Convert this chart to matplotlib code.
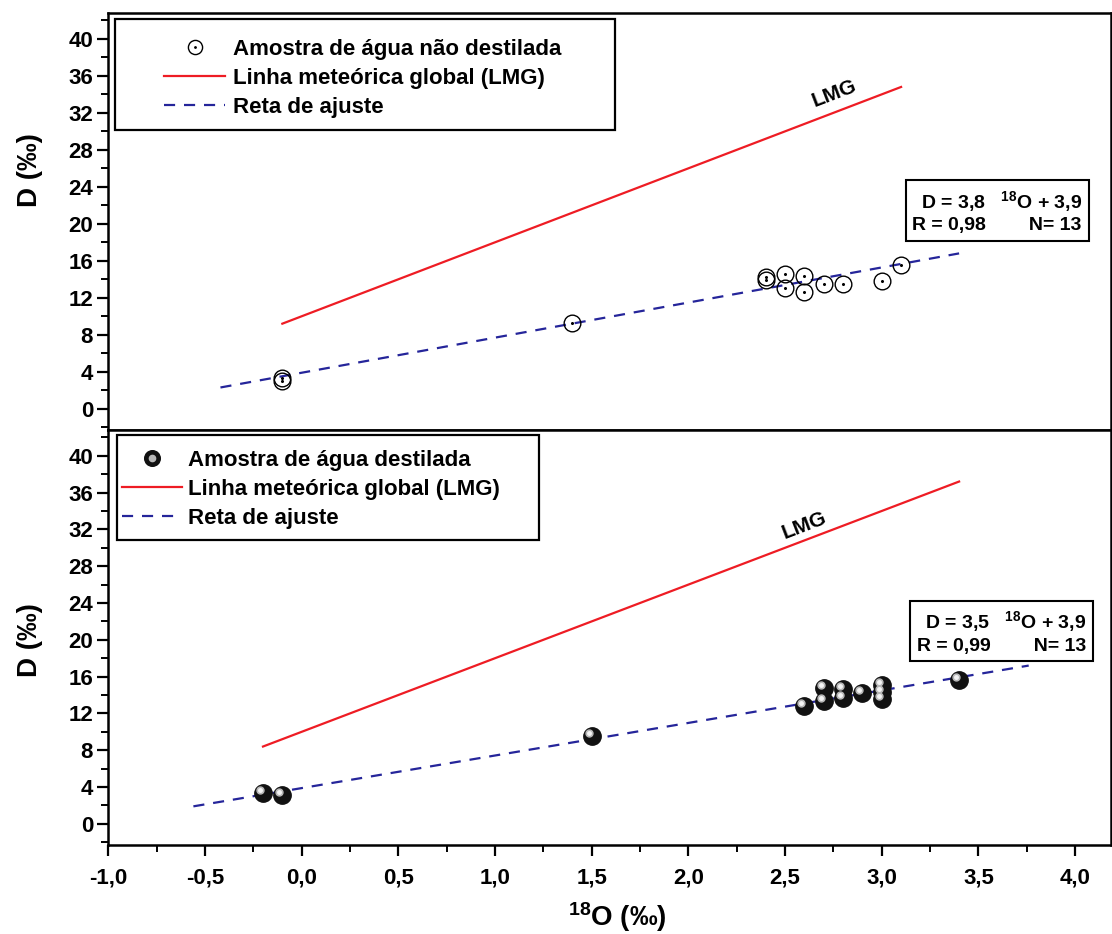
import numpy as np
import matplotlib.pyplot as plt
from matplotlib.patches import Rectangle
from matplotlib.transforms import ScaledTranslation
from matplotlib.legend_handler import HandlerTuple

plt.rcParams['font.family'] = ['Liberation Sans', 'DejaVu Sans']
plt.rcParams['font.weight'] = 'bold'
plt.rcParams['mathtext.fontset'] = 'custom'
plt.rcParams['mathtext.rm'] = 'Liberation Sans:bold'
plt.rcParams['mathtext.bf'] = 'Liberation Sans:bold'
plt.rcParams['mathtext.default'] = 'bf'

# amostra nao destilada (painel de cima)
top_x = [-0.1, -0.1, 1.4, 2.4, 2.4, 2.5, 2.5, 2.6, 2.6, 2.7, 2.8, 3.0, 3.1]
top_y = [3.3, 3.0, 9.3, 14.3, 13.9, 14.6, 13.1, 14.4, 12.6, 13.5, 13.5, 13.8, 15.5]
lmg_top_x = [-0.1, 3.1]
lmg_top_y = [9.2, 34.8]
fit_top_x = [-0.42, 3.4]
fit_top_y = [2.3, 16.8]

# amostra destilada (painel de baixo)
bot_x = [-0.2, -0.1, 1.5, 2.6, 2.7, 2.7, 2.8, 2.8, 2.9, 3.0, 3.0, 3.0, 3.4]
bot_y = [3.3, 3.1, 9.5, 12.8, 14.8, 13.3, 14.6, 13.7, 14.25, 15.05, 13.6, 14.3, 15.6]
lmg_bot_x = [-0.2, 3.4]
lmg_bot_y = [8.4, 37.2]
fit_bot_x = [-0.56, 3.76]
fit_bot_y = [1.9, 17.2]

x_ticks = [-1.0, -0.5, 0.0, 0.5, 1.0, 1.5, 2.0, 2.5, 3.0, 3.5, 4.0]
x_tick_labels = ['-1,0', '-0,5', '0,0', '0,5', '1,0', '1,5', '2,0', '2,5', '3,0', '3,5', '4,0']
y_ticks = [0, 4, 8, 12, 16, 20, 24, 28, 32, 36, 40]

red = '#ee1c24'
blue = '#25259a'

fig = plt.figure(figsize=(11.12, 9.34), dpi=100)
ax1 = fig.add_axes([0.0974, 0.5396, 0.9016, 0.4465])
ax2 = fig.add_axes([0.0974, 0.0953, 0.9016, 0.4443])

for ax in [ax1, ax2]:
    ax.set_xlim(-1.0, 4.185)
    ax.set_ylim(-2.3, 42.8)
    ax.set_yticks(y_ticks)
    ax.set_yticks(np.arange(-2, 43, 2), minor=True)
    ax.set_xticks(x_ticks)
    ax.set_xticks(np.arange(-1.0, 4.2, 0.25), minor=True)
    ax.tick_params(which='major', direction='out', length=8, width=1.6, labelsize=16, pad=3)
    ax.tick_params(which='minor', direction='out', length=5, width=1.4)
    ax.tick_params(top=False, right=False, which='both')
    for s in ax.spines.values():
        s.set_linewidth(1.8)

ax1.tick_params(bottom=False, labelbottom=False, which='both')
ax2.set_xticklabels(x_tick_labels)
ax2.tick_params(axis='x', which='major', pad=8)

# painel de cima
h_lmg1, = ax1.plot(lmg_top_x, lmg_top_y, '-', color=red, lw=1.6)
h_fit1, = ax1.plot(fit_top_x, fit_top_y, color=blue, lw=1.6, dashes=(5, 4))
h_c1, = ax1.plot(top_x, top_y, 'o', ms=12, mfc='none', mec='black', mew=1.0, ls='none')
h_d1, = ax1.plot(top_x, top_y, 'o', ms=1.2, color='black', ls='none')

# painel de baixo
h_lmg2, = ax2.plot(lmg_bot_x, lmg_bot_y, '-', color=red, lw=1.6)
h_fit2, = ax2.plot(fit_bot_x, fit_bot_y, color=blue, lw=1.6, dashes=(5, 4))
h_b2, = ax2.plot(bot_x, bot_y, 'o', ms=12.5, color='#111111', ls='none')
shift = ax2.transData + ScaledTranslation(-2.2 / 72, 2.2 / 72, fig.dpi_scale_trans)
h_h2, = ax2.plot(bot_x, bot_y, 'o', ms=5, color='#b8b8b8', ls='none', transform=shift)
ax2.plot(bot_x, bot_y, 'o', ms=2.5, color='#f4f4f4', ls='none', transform=shift)

# legendas
leg1 = ax1.legend([(h_c1, h_d1), h_lmg1, h_fit1],
                  ['Amostra de água não destilada', 'Linha meteórica global (LMG)', 'Reta de ajuste'],
                  handler_map={tuple: HandlerTuple(ndivide=1)},
                  loc='upper left', bbox_to_anchor=(0.0556, 0.938), borderaxespad=0, borderpad=0,
                  frameon=False, fontsize=16, handlelength=2.75, handletextpad=0.36, labelspacing=0.36,
                  markerscale=0.85)
ax1.add_patch(Rectangle((0.0067, 0.719), 0.4986, 0.2666, transform=ax1.transAxes,
                        fill=False, lw=1.6, ec='black', zorder=5))

leg2 = ax2.legend([(h_b2, h_h2), h_lmg2, h_fit2],
                  ['Amostra de água destilada', 'Linha meteórica global (LMG)', 'Reta de ajuste'],
                  handler_map={tuple: HandlerTuple(ndivide=1)},
                  loc='upper left', bbox_to_anchor=(0.0137, 0.952), borderaxespad=0, borderpad=0,
                  frameon=False, fontsize=16, handlelength=2.7, handletextpad=0.27, labelspacing=0.36,
                  markerscale=0.9)
ax2.add_patch(Rectangle((0.0087, 0.735), 0.4211, 0.253, transform=ax2.transAxes,
                        fill=False, lw=1.6, ec='black', zorder=5))

# caixas da regressao
ax1.text(0.971, 0.524, 'D = 3,8   $^{18}$O + 3,9\nR = 0,98        N= 13', transform=ax1.transAxes,
         ha='right', va='center', multialignment='right', fontsize=14, linespacing=1.25,
         bbox=dict(boxstyle='square,pad=0.35', fc='white', ec='black', lw=1.5))
ax2.text(0.975, 0.513, 'D = 3,5   $^{18}$O + 3,9\nR = 0,99        N= 13', transform=ax2.transAxes,
         ha='right', va='center', multialignment='right', fontsize=14, linespacing=1.25,
         bbox=dict(boxstyle='square,pad=0.35', fc='white', ec='black', lw=1.5))

# rotulo LMG
ax1.text(2.755, 34.1, 'LMG', fontsize=15, rotation=21, rotation_mode='anchor', ha='center', va='center')
ax2.text(2.60, 32.4, 'LMG', fontsize=15, rotation=21, rotation_mode='anchor', ha='center', va='center')

# eixos
fig.text(0.027, 0.818, 'D (‰)', rotation=90, ha='center', va='center', fontsize=20)
fig.text(0.027, 0.315, 'D (‰)', rotation=90, ha='center', va='center', fontsize=20)
fig.text(0.555, 0.018, '$^{18}$O (‰)', ha='center', va='center', fontsize=20)

plt.savefig('out.png', dpi=100)
